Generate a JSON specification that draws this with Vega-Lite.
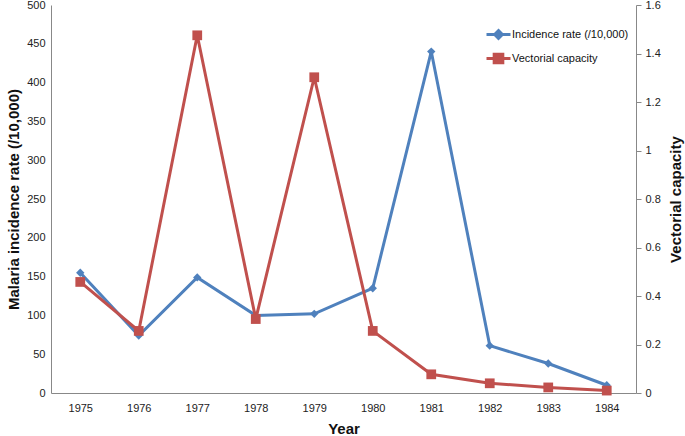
{
  "$schema": "https://vega.github.io/schema/vega-lite/v6.json",
  "width": 585,
  "height": 388,
  "autosize": {"type": "none"},
  "padding": {"left": 51, "top": 5, "right": 49, "bottom": 43},
  "config": {
    "view": {"stroke": null},
    "font": "Liberation Sans",
    "axis": {
      "domainColor": "#888888",
      "domainWidth": 1,
      "labelColor": "#222222",
      "labelFontSize": 11,
      "labelFont": "Liberation Sans",
      "titleFont": "Liberation Sans",
      "titleFontSize": 15,
      "titleFontWeight": "bold",
      "titleColor": "#111111",
      "grid": false,
      "tickColor": "#888888"
    }
  },
  "data": {
    "values": [
      {"year": "1975", "incidence": 155, "vc": 0.458},
      {"year": "1976", "incidence": 74, "vc": 0.256},
      {"year": "1977", "incidence": 149, "vc": 1.475},
      {"year": "1978", "incidence": 100, "vc": 0.305},
      {"year": "1979", "incidence": 102, "vc": 1.302},
      {"year": "1980", "incidence": 135, "vc": 0.256},
      {"year": "1981", "incidence": 440, "vc": 0.077},
      {"year": "1982", "incidence": 61, "vc": 0.04},
      {"year": "1983", "incidence": 38, "vc": 0.023},
      {"year": "1984", "incidence": 10, "vc": 0.01}
    ]
  },
  "encoding": {
    "x": {
      "field": "year",
      "type": "ordinal",
      "scale": {"type": "point", "padding": 0.5},
      "axis": {"title": "Year", "labelAngle": 0, "ticks": false, "labelPadding": 9, "titlePadding": 8}
    }
  },
  "layer": [
    {
      "encoding": {
        "y": {
          "field": "incidence",
          "type": "quantitative",
          "scale": {"domain": [0, 500], "nice": false},
          "axis": {
            "title": "Malaria incidence rate (/10,000)",
            "orient": "left",
            "values": [0, 50, 100, 150, 200, 250, 300, 350, 400, 450, 500],
            "ticks": false,
            "labelPadding": 6,
            "titlePadding": 5
          }
        }
      },
      "layer": [
        {
          "mark": {"type": "line", "strokeWidth": 3},
          "encoding": {
            "color": {
              "datum": "Incidence rate (/10,000)",
              "type": "nominal",
              "scale": {"domain": ["Incidence rate (/10,000)", "Vectorial capacity"], "range": ["#4F81BD", "#C0504D"]},
              "legend": {
                "title": null,
                "orient": "none",
                "legendX": 434,
                "legendY": 16,
                "padding": 0,
                "symbolSize": 576,
                "symbolStrokeWidth": 3,
                "rowPadding": -3,
                "labelOffset": 0,
                "labelFontSize": 11,
                "labelColor": "#111111",
                "labelFont": "Liberation Sans",
                "encode": {
                  "symbols": {
                    "update": {
                      "shape": {"signal": "datum.value == 'Vectorial capacity' ? 'M-1,0H1M-0.36,-0.36H0.36V0.36H-0.36Z' : 'M-1,0H1M0,-0.32L0.32,0L0,0.32L-0.32,0Z'"},
                      "fill": {"signal": "datum.value == 'Vectorial capacity' ? '#C0504D' : '#4F81BD'"},
                      "stroke": {"signal": "datum.value == 'Vectorial capacity' ? '#C0504D' : '#4F81BD'"},
                      "strokeWidth": {"value": 3}
                    }
                  }
                }
              }
            }
          }
        },
        {
          "mark": {"type": "point", "shape": "diamond", "filled": true, "size": 70, "opacity": 1, "color": "#4F81BD"}
        }
      ]
    },
    {
      "encoding": {
        "y": {
          "field": "vc",
          "type": "quantitative",
          "scale": {"domain": [0, 1.6], "nice": false},
          "axis": {
            "title": "Vectorial capacity",
            "orient": "right",
            "values": [0, 0.2, 0.4, 0.6, 0.8, 1, 1.2, 1.4, 1.6],
            "format": "~g",
            "ticks": true,
            "tickSize": 5,
            "labelPadding": 4,
            "titlePadding": 8,
            "titleAngle": 270,
            "titleBaseline": "top"
          }
        }
      },
      "layer": [
        {
          "mark": {"type": "line", "strokeWidth": 3},
          "encoding": {
            "color": {"datum": "Vectorial capacity", "type": "nominal"}
          }
        },
        {
          "mark": {"type": "square", "filled": true, "size": 95, "opacity": 1, "color": "#C0504D"}
        }
      ]
    }
  ],
  "resolve": {"scale": {"y": "independent"}}
}
